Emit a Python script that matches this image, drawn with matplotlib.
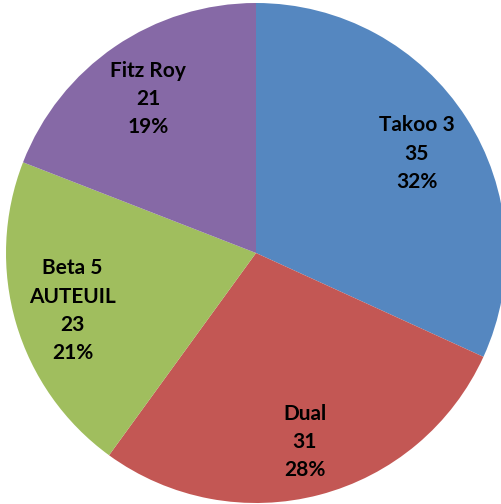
import matplotlib
matplotlib.use("Agg")
import matplotlib.pyplot as plt
import numpy as np

categories = ["Takoo 3", "Dual", "Beta 5\nAUTEUIL", "Fitz Roy"]
values = [35, 31, 23, 21]
colors = ["#5587C0", "#C35754", "#A0BE5E", "#8669A6"]

total = sum(values)

W, H = 502, 504
fig = plt.figure(figsize=(W / 100, H / 100), dpi=100)
ax = fig.add_axes([0, 0, 1, 1])

wedges = ax.pie(
    values,
    colors=colors,
    startangle=90,
    counterclock=False,
    radius=1.0,
    wedgeprops=dict(linewidth=0),
    labels=None,
)[0]

for i, (w, v) in enumerate(zip(wedges, values)):
    ang = (w.theta1 + w.theta2) / 2.0
    r = 0.765
    x = r * np.cos(np.deg2rad(ang))
    y = r * np.sin(np.deg2rad(ang)) - 0.016
    pct = 100.0 * v / total
    ax.text(x, y, f"{categories[i]}\n{v}\n{pct:.0f}%", ha="center", va="center",
            multialignment="center", fontsize=15, fontweight="bold",
            family=["Lato", "DejaVu Sans"], color="#000000", linespacing=1.52)

R = 250.0
cx, cy = 256.0, 251.0
ax.set_xlim(-cx / R, (W - cx) / R)
ax.set_ylim(-cy / R, (H - cy) / R)
ax.set_aspect("auto")
ax.axis("off")

fig.savefig("out.png", dpi=100)
